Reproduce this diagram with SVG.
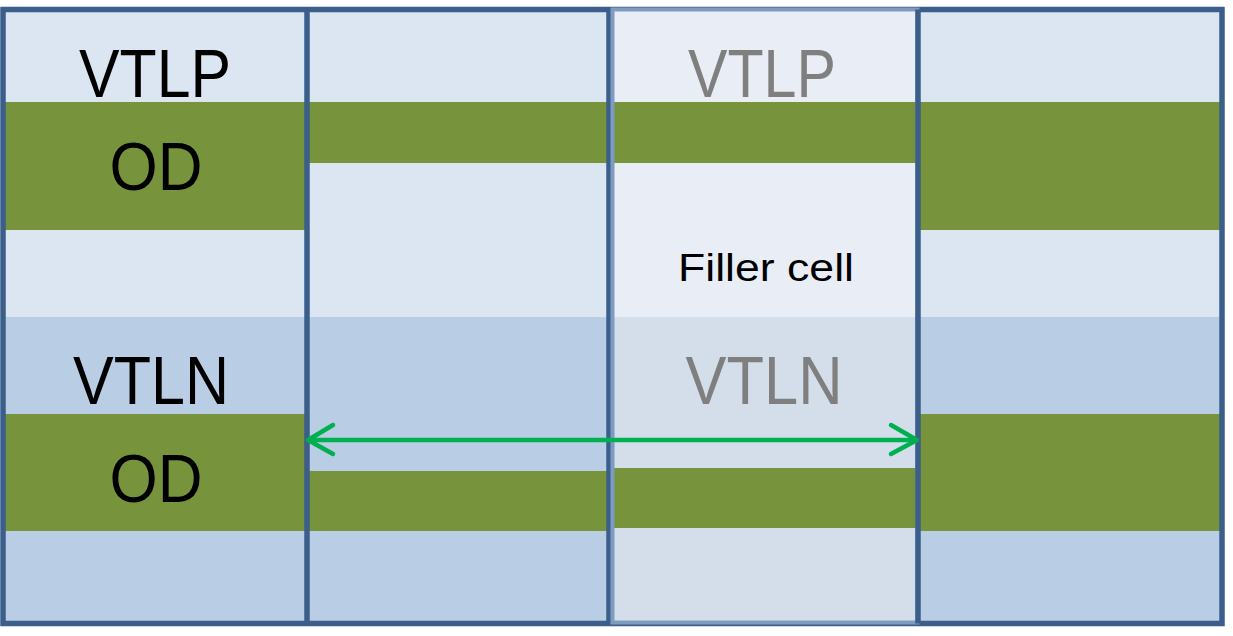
<svg xmlns="http://www.w3.org/2000/svg" width="1233" height="636" viewBox="0 0 1233 636">
  <style>
    .p { fill: #dce6f2; }
    .n { fill: #b9cde5; }
    .fp { fill: #e9eef6; }
    .fn { fill: #d4deeb; }
    .od { fill: #77933c; }
    .big { font-family: "Liberation Sans", Arial, sans-serif; font-size: 68px; fill: #000; text-anchor: middle; }
    .gray { fill: #7f7f7f; }
    .small { font-family: "Liberation Sans", Arial, sans-serif; font-size: 39px; fill: #000; text-anchor: middle; }
    .edge { stroke: #3b5e8a; stroke-width: 5.5; fill: none; }
    .arrow { stroke: #00b050; stroke-width: 4.5; fill: none; stroke-linecap: round; stroke-linejoin: round; }
  </style>
  <rect width="1233" height="636" fill="#ffffff"/>

  <g id="cell1">
    <rect class="p" x="3" y="9" width="304" height="308"/>
    <rect class="n" x="3" y="317" width="304" height="307"/>
    <rect class="od" x="3" y="102" width="304" height="128"/>
    <rect class="od" x="3" y="414" width="304" height="117"/>
    <text class="big" x="155" y="97" textLength="152" lengthAdjust="spacingAndGlyphs">VTLP</text>
    <text class="big" x="156" y="190" textLength="93" lengthAdjust="spacingAndGlyphs">OD</text>
    <text class="big" x="151" y="404" textLength="156" lengthAdjust="spacingAndGlyphs">VTLN</text>
    <text class="big" x="156" y="502" textLength="93" lengthAdjust="spacingAndGlyphs">OD</text>
  </g>

  <g id="cell2">
    <rect class="p" x="307" y="9" width="302" height="308"/>
    <rect class="n" x="307" y="317" width="302" height="307"/>
    <rect class="od" x="307" y="102" width="302" height="61"/>
    <rect class="od" x="307" y="471" width="302" height="60"/>
  </g>

  <g id="cell4">
    <rect class="p" x="918" y="9" width="304" height="308"/>
    <rect class="n" x="918" y="317" width="304" height="307"/>
    <rect class="od" x="918" y="102" width="304" height="128"/>
    <rect class="od" x="918" y="414" width="304" height="117"/>
  </g>

  <g id="borders">
    <rect class="edge" x="3" y="9.5" width="1219" height="614"/>
    <line class="edge" x1="307" y1="9.5" x2="307" y2="623.5"/>
    <line class="edge" x1="609" y1="9.5" x2="609" y2="623.5"/>
  </g>

  <g id="filler">
    <rect class="fp" x="612" y="10" width="306" height="307"/>
    <rect class="fn" x="612" y="317" width="306" height="305"/>
    <rect class="od" x="612" y="102" width="306" height="61"/>
    <rect class="od" x="612" y="468" width="306" height="60"/>
    <rect x="612.5" y="9.5" width="305" height="613" fill="none" stroke="#7f9cc0" stroke-width="4"/>
    <text class="big gray" x="762" y="97" textLength="148" lengthAdjust="spacingAndGlyphs">VTLP</text>
    <text class="big gray" x="764" y="404" textLength="157" lengthAdjust="spacingAndGlyphs">VTLN</text>
    <text class="small" x="766" y="281" textLength="176" lengthAdjust="spacingAndGlyphs">Filler cell</text>
  </g>

  <g id="divider">
    <line class="edge" x1="918" y1="9.5" x2="918" y2="623.5"/>
  </g>

  <g id="connectors">
    <line class="arrow" x1="309" y1="440" x2="916" y2="440"/>
    <polyline class="arrow" points="333,425 308,440 333,454"/>
    <polyline class="arrow" points="891,425 917,440 891,454"/>
  </g>
</svg>
